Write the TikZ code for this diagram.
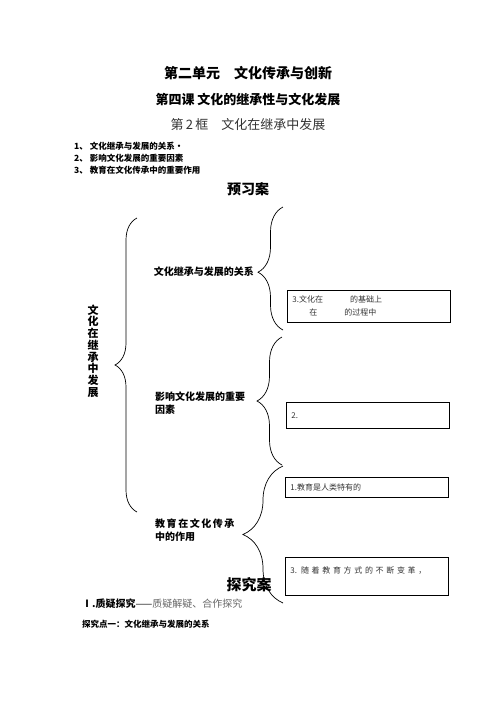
\documentclass[tikz,border=0pt]{standalone}
\usepackage{fontspec}
\setmainfont{Liberation Serif}
\newfontfamily\cjk{Noto Sans CJK SC}
\usetikzlibrary{decorations.pathreplacing}

\begin{document}
\begin{tikzpicture}[x=1pt, y=-1pt,
        title/.style={font=\cjk\bfseries\fontsize{14}{16}\selectfont},
        head/.style={font=\cjk\bfseries\fontsize{10}{13}\selectfont, align=left, anchor=west, inner sep=0pt},
        item/.style={font=\cjk\bfseries\fontsize{8.5}{10}\selectfont, anchor=west, inner sep=0pt},
        answer/.style={draw, line width=0.8pt, anchor=north west, minimum width=163pt,
            text width=153pt, align=left, inner sep=4pt, text=black!80,
            font=\cjk\fontsize{8}{13}\selectfont},
        curly/.style={decorate, decoration={brace, amplitude=#1}, line width=0.7pt},
    ]
    \useasboundingbox (0,0) rectangle (496,702);

    % titles
    \node[title] (unit) at (248,73) {第二单元\quad 文化传承与创新};
    \node[title, font=\cjk\bfseries\fontsize{13}{15}\selectfont] (lesson) at (248,100) {第四课\ 文化的继承性与文化发展};
    \node[font=\cjk\fontsize{13}{15}\selectfont, text=black!80] (frame) at (248,125) {第\,2\,框\quad 文化在继承中发展};

    \node[item] (goal1) at (74,146) {1、\ 文化继承与发展的关系·};
    \node[item] (goal2) at (74,158) {2、\ 影响文化发展的重要因素};
    \node[item] (goal3) at (74,170) {3、\ 教育在文化传承中的重要作用};

    \node[title] (preview) at (248,189) {预习案};

    % left brace
    \node[font=\cjk\bfseries\fontsize{11}{11.7}\selectfont, align=center] (topic) at (93,351)
        {文\\化\\在\\继\\承\\中\\发\\展};
    \coordinate (main-s) at (137,512);
    \coordinate (main-e) at (137,218);
    \draw[curly=22] (main-s) -- (main-e);

    % the three points
    \node[head, anchor=east] (rel) at (254,272) {文化继承与发展的关系};
    \node[head] (factor) at (155,403.5) {影响文化发展的重要\\因素};
    \node[head] (edu) at (155,530.5) {\makebox[74pt][s]{教 育 在 文 化 传 承}\\中的作用};

    \coordinate (rel-s) at (283,330);
    \coordinate (rel-e) at (283,207);
    \draw[curly=25, decoration={aspect=0.47}] (rel-s) -- (rel-e);

    \coordinate (factor-s) at (282,465);
    \coordinate (factor-e) at (282,337);
    \draw[curly=25] (factor-s) -- (factor-e);

    \coordinate (edu-s) at (283,603);
    \coordinate (edu-e) at (283,466);
    \draw[curly=40] (edu-s) -- (edu-e);

    % answer boxes
    \node[answer, minimum height=32pt] (box1) at (287,290)
        {3.文化在\hspace{27pt}的基础上\\\hspace{17pt}在\hspace{27pt}的过程中};
    \node[answer, minimum height=26pt] (box2) at (286,402) {2.};
    \node[answer, minimum height=20pt] (box3) at (285,477) {1.教育是人类特有的};
    \node[answer, minimum height=38pt] (box4) at (285,557)
        {\makebox[145pt][s]{3. 随 着 教 育 方 式 的 不 断 变 革 ，}\\\mbox{}};

    \node[title, font=\cjk\bfseries\fontsize{15}{17}\selectfont] (inquiry) at (249,585) {探究案};

    \node[item, font=\cjk\fontsize{10}{12}\selectfont] (part1) at (82,604)
        {\textbf{Ⅰ.质疑探究}——\textcolor{black!60}{质疑解疑、合作探究}};
    \node[item] (point1) at (82,624) {探究点一：文化继承与发展的关系};

\end{tikzpicture}
\end{document}
